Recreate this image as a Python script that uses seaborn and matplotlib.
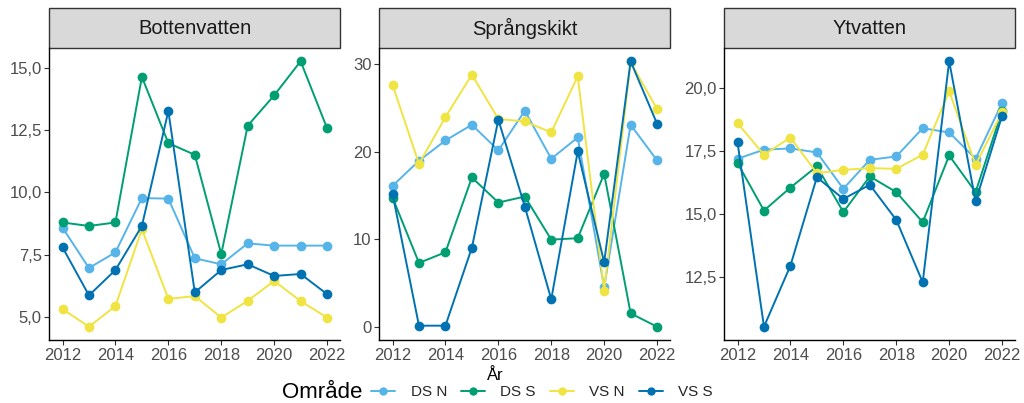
import matplotlib.pyplot as plt
import matplotlib.ticker as mticker
from matplotlib.patches import Rectangle
from matplotlib.lines import Line2D
import seaborn as sns
import pandas as pd

years = list(range(2012, 2023))
areas = ["DS N", "DS S", "VS N", "VS S"]
layers = ["Bottenvatten", "Språngskikt", "Ytvatten"]
palette = {"DS N": "#56B4E9", "DS S": "#009E73", "VS N": "#F0E442", "VS S": "#0072B2"}

# Bottenvatten
bott_ds_n = [8.58, 6.96, 7.59, 9.77, 9.75, 7.35, 7.11, 7.95, 7.86, 7.86, 7.86]
bott_ds_s = [8.79, 8.65, 8.79, 14.64, 11.98, 11.51, 7.52, 12.68, 13.90, 15.27, 12.58]
bott_vs_n = [5.31, 4.60, 5.43, 8.52, 5.72, 5.83, 4.97, 5.64, 6.44, 5.63, 4.97]
bott_vs_s = [7.79, 5.86, 6.88, 8.65, 13.27, 5.98, 6.88, 7.11, 6.64, 6.72, 5.91]

# Språngskikt
spr_ds_n = [16.1, 18.95, 21.26, 23.05, 20.13, 24.64, 19.18, 21.6, 4.55, 23.05, 18.99]
spr_ds_s = [14.77, 7.33, 8.54, 17.05, 14.2, 14.88, 9.98, 10.14, 17.47, 1.59, 0.07]
spr_vs_n = [27.6, 18.6, 23.92, 28.75, 23.7, 23.43, 22.18, 28.56, 4.17, 30.15, 24.83]
spr_vs_s = [15.19, 0.19, 0.19, 9.07, 23.62, 13.74, 3.19, 20.01, 7.4, 30.27, 23.16]

# Ytvatten
yt_ds_n = [17.2, 17.56, 17.61, 17.45, 16.01, 17.16, 17.29, 18.41, 18.24, 17.2, 19.41]
yt_ds_s = [17.03, 15.15, 16.06, 16.9, 15.09, 16.5, 15.88, 14.69, 17.33, 15.88, 19.1]
yt_vs_n = [18.61, 17.36, 18.04, 16.63, 16.76, 16.83, 16.8, 17.36, 19.87, 16.96, 19.04]
yt_vs_s = [17.85, 10.55, 12.97, 16.47, 15.61, 16.17, 14.78, 12.31, 21.06, 15.51, 18.9]

series = {
    "Bottenvatten": [bott_ds_n, bott_ds_s, bott_vs_n, bott_vs_s],
    "Språngskikt": [spr_ds_n, spr_ds_s, spr_vs_n, spr_vs_s],
    "Ytvatten": [yt_ds_n, yt_ds_s, yt_vs_n, yt_vs_s],
}

rows = []
for layer in layers:
    for area, vals in zip(areas, series[layer]):
        for yr, v in zip(years, vals):
            rows.append({"Skikt": layer, "Område": area, "År": yr, "Värde": v})
df = pd.DataFrame(rows)

sns.set_style("white")
plt.rcParams["font.family"] = ["Liberation Sans", "DejaVu Sans"]

fig = plt.figure(figsize=(10.24, 4.03), dpi=100)
W, H = 1024, 403
lefts = [49.3, 379.3, 724.3]
pw = 291
top_px, bot_px = 48, 340
strip_px = 40

def comma_fmt(decimals):
    return mticker.FuncFormatter(lambda v, p: f"{v:.{decimals}f}".replace(".", ","))

for layer, lx in zip(layers, lefts):
    ax = fig.add_axes([lx / W, 1 - bot_px / H, pw / W, (bot_px - top_px) / H])
    sub = df[df["Skikt"] == layer]
    sns.lineplot(data=sub, x="År", y="Värde", hue="Område", palette=palette,
                 hue_order=areas, marker="o", markersize=7, markeredgewidth=0,
                 linewidth=1.4, ax=ax, legend=False)
    ax.set_xlabel("")
    ax.set_ylabel("")
    ax.set_xticks([2012, 2014, 2016, 2018, 2020, 2022])
    ax.set_xlim(2011.5, 2022.5)
    if layer == "Bottenvatten":
        ax.set_yticks([5, 7.5, 10, 12.5, 15])
        ax.yaxis.set_major_formatter(comma_fmt(1))
    elif layer == "Språngskikt":
        ax.set_yticks([0, 10, 20, 30])
    else:
        ax.set_yticks([12.5, 15, 17.5, 20])
        ax.yaxis.set_major_formatter(comma_fmt(1))
    for s in ["top", "right"]:
        ax.spines[s].set_visible(False)
    for s in ["left", "bottom"]:
        ax.spines[s].set_color("black")
        ax.spines[s].set_linewidth(1.0)
    ax.tick_params(axis="both", which="major", direction="out", length=3.5,
                   width=0.8, color="#333333", labelsize=12, labelcolor="#4D4D4D",
                   left=True, bottom=True, pad=2)
    # facet strip
    sh = strip_px / (bot_px - top_px)
    ax.add_patch(Rectangle((0, 1), 1, sh, transform=ax.transAxes, clip_on=False,
                           facecolor="#D9D9D9", edgecolor="#333333", linewidth=1.0))
    ax.text(0.5, 1 + sh / 2, layer, transform=ax.transAxes, ha="center", va="center",
            fontsize=14.5, color="#1A1A1A")

# x label sits behind the legend, as in the original
fig.text(495 / W, 1 - 376 / H, "År", ha="center", va="center", fontsize=12, color="black")

fig.text(282 / W, 1 - 392 / H, "Område", ha="left", va="center", fontsize=16, color="black")
handles = [Line2D([0], [0], color=palette[a], marker="o", markersize=6,
                  markeredgewidth=0, linewidth=1.4) for a in areas]
fig.legend(handles, areas, loc="center", bbox_to_anchor=(542 / W, 1 - 392 / H),
           ncol=4, frameon=False, fontsize=11, handlelength=1.6, columnspacing=0.9,
           handletextpad=1.0, borderpad=0, borderaxespad=0)

fig.savefig("out.png", dpi=100)
